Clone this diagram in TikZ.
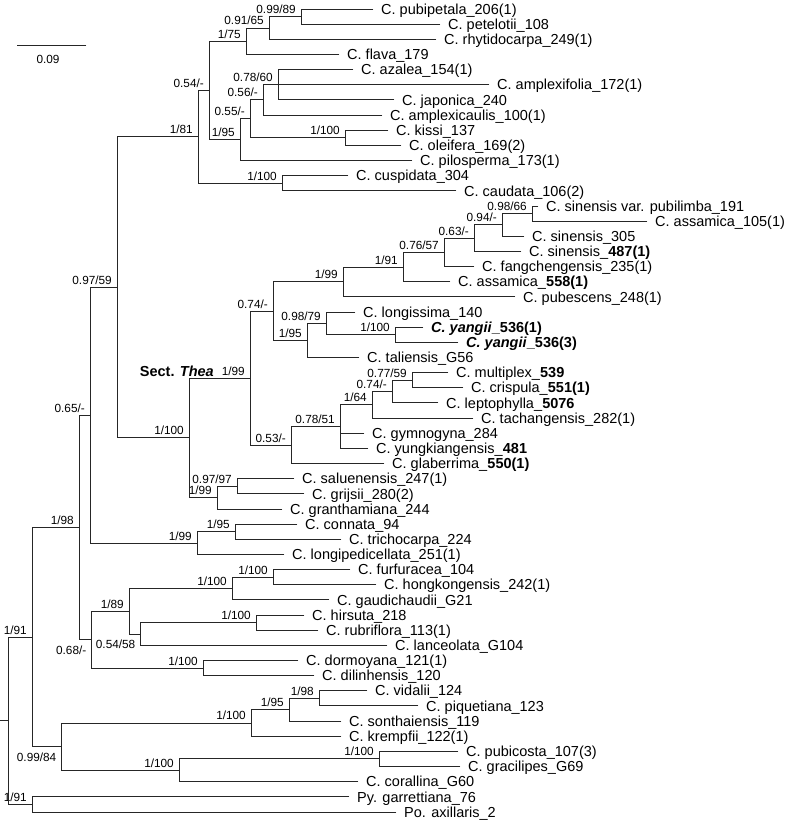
\documentclass[tikz,border=0pt]{standalone}
\usepackage{fontspec}
\setmainfont{Liberation Sans}
\usetikzlibrary{calc}
\tikzset{
  br/.style={draw=black!85, line width=0.9pt, line cap=rect},
  tiplab/.style={anchor=base west, inner sep=0pt, font=\fontsize{14.5}{17}\selectfont},
  sup/.style={inner sep=0pt, font=\fontsize{11.8}{14}\selectfont},
}
\newcommand{\tip}[4]{%
  \coordinate (#1) at (#3,{9+15.15*(#2-1)});
  \node[tiplab] (#1l) at ({#3+8},{9+15.15*(#2-1)+5.2}) {#4};}
\newcommand{\inode}[4]{%
  \coordinate (#1) at (#2,#3);
  \node[sup, anchor=base east] (#1s) at ({#2-5},{#3-3}) {#4};}
\newcommand{\inodeb}[4]{%
  \coordinate (#1) at (#2,#3);
  \node[sup, anchor=base east] (#1s) at ({#2-4.5},{#3+15}) {#4};}
\begin{document}
\begin{tikzpicture}[x=1pt,y=-1pt]
\useasboundingbox (0,0) rectangle (790,822);
% scale bar
\coordinate (sbA) at (17,45);
\coordinate (sbB) at (86,45);
\draw[br] (sbA) -- (sbB);
\node[sup, anchor=base] (sbl) at (48,63.5) {0.09};
% tips
\tip{t1}{1}{373}{C. pubipetala\_206(1)}
\tip{t2}{2}{440}{C. petelotii\_108}
\tip{t3}{3}{436}{C. rhytidocarpa\_249(1)}
\tip{t4}{4}{339}{C. flava\_179}
\tip{t5}{5}{353}{C. azalea\_154(1)}
\tip{t6}{6}{489}{C. amplexifolia\_172(1)}
\tip{t7}{7}{394}{C. japonica\_240}
\tip{t8}{8}{382}{C. amplexicaulis\_100(1)}
\tip{t9}{9}{388}{C. kissi\_137}
\tip{t10}{10}{401}{C. oleifera\_169(2)}
\tip{t11}{11}{412}{C. pilosperma\_173(1)}
\tip{t12}{12}{348}{C. cuspidata\_304}
\tip{t13}{13}{456}{C. caudata\_106(2)}
\tip{t14}{14}{538}{C. sinensis var. pubilimba\_191}
\tip{t15}{15}{647}{C. assamica\_105(1)}
\tip{t16}{16}{524}{C. sinensis\_305}
\tip{t17}{17}{521}{C. sinensis\_\textbf{487(1)}}
\tip{t18}{18}{474}{C. fangchengensis\_235(1)}
\tip{t19}{19}{450}{C. assamica\_\textbf{558(1)}}
\tip{t20}{20}{515}{C. pubescens\_248(1)}
\tip{t21}{21}{355}{C. longissima\_140}
\tip{t22}{22}{423}{\textbf{\textit{C. yangii}\_536(1)}}
\tip{t23}{23}{458}{\textbf{\textit{C. yangii}\_536(3)}}
\tip{t24}{24}{359}{C. taliensis\_G56}
\tip{t25}{25}{448}{C. multiplex\_\textbf{539}}
\tip{t26}{26}{463}{C. crispula\_\textbf{551(1)}}
\tip{t27}{27}{438}{C. leptophylla\_\textbf{5076}}
\tip{t28}{28}{473}{C. tachangensis\_282(1)}
\tip{t29}{29}{364}{C. gymnogyna\_284}
\tip{t30}{30}{368}{C. yungkiangensis\_\textbf{481}}
\tip{t31}{31}{384}{C. glaberrima\_\textbf{550(1)}}
\tip{t32}{32}{294}{C. saluenensis\_247(1)}
\tip{t33}{33}{304}{C. grijsii\_280(2)}
\tip{t34}{34}{282}{C. granthamiana\_244}
\tip{t35}{35}{297}{C. connata\_94}
\tip{t36}{36}{341}{C. trichocarpa\_224}
\tip{t37}{37}{284}{C. longipedicellata\_251(1)}
\tip{t38}{38}{350}{C. furfuracea\_104}
\tip{t39}{39}{376}{C. hongkongensis\_242(1)}
\tip{t40}{40}{329}{C. gaudichaudii\_G21}
\tip{t41}{41}{304}{C. hirsuta\_218}
\tip{t42}{42}{318}{C. rubriflora\_113(1)}
\tip{t43}{43}{387}{C. lanceolata\_G104}
\tip{t44}{44}{298}{C. dormoyana\_121(1)}
\tip{t45}{45}{314}{C. dilinhensis\_120}
\tip{t46}{46}{367}{C. vidalii\_124}
\tip{t47}{47}{418}{C. piquetiana\_123}
\tip{t48}{48}{341}{C. sonthaiensis\_119}
\tip{t49}{49}{341}{C. krempfii\_122(1)}
\tip{t50}{50}{458}{C. pubicosta\_107(3)}
\tip{t51}{51}{460}{C. gracilipes\_G69}
\tip{t52}{52}{358}{C. corallina\_G60}
\tip{t53}{53}{349}{Py. garrettiana\_76}
\tip{t54}{54}{396}{Po. axillaris\_2}
% internal nodes
\inode{npp}{301}{16.6}{0.99/89}
\inode{nA}{269}{27.95}{0.91/65}
\inode{nB}{246}{41.2}{1/75}
\inode{nC}{278}{84.75}{0.78/60}
\inode{nD}{263}{99.9}{0.56/-}
\inode{nE}{345}{137.8}{1/100}
\inode{nF}{250}{118.85}{0.55/-}
\inode{nG}{240}{139.7}{1/95}
\inode{nH}{209}{90.45}{0.54/-}
\inode{nI}{282}{183.2}{1/100}
\inode{nJ}{198}{136.8}{1/81}
\inode{sA}{532}{213.5}{0.98/66}
\inode{sB}{502}{224.9}{0.94/-}
\inode{sC}{474}{238.15}{0.63/-}
\inode{sD}{444}{252.35}{0.76/57}
\inode{sE}{403}{267}{1/91}
\inode{sF}{343}{281.9}{1/99}
\inode{yA}{395}{334.7}{1/100}
\inode{yB}{326}{323.35}{0.98/79}
\inode{yC}{307}{340.4}{1/95}
\inode{yD}{273}{311.15}{0.74/-}
\inode{mA}{412}{380.2}{0.77/59}
\inode{mB}{392}{391.55}{0.74/-}
\inode{mC}{372}{404.8}{1/64}
\inode{mD}{340}{426.6}{0.78/51}
\inode{mE}{291}{445.05}{0.53/-}
\inode{thea}{250}{378.1}{1/99}
\inode{gA}{237}{486.2}{0.97/97}
\inode{gB}{217}{497.6}{1/99}
\inode{gC}{189}{437.85}{1/100}
\inode{bA}{117}{287.3}{0.97/59}
\inode{cA}{235}{531.7}{1/95}
\inode{cB}{197}{543.05}{1/99}
\inode{bB}{90}{415.2}{0.65/-}
\inode{fA}{273}{577.1}{1/100}
\inode{fB}{232}{588.5}{1/100}
\inode{hA}{256}{622.6}{1/100}
\inodeb{hB}{140}{633.95}{0.54/58}
\inode{hC}{129}{611.2}{1/89}
\inode{dA}{203}{668}{1/100}
\inodeb{hD}{91}{639.6}{0.68/-}
\inode{bC}{79}{527.4}{1/98}
\inode{vA}{319}{698.3}{1/98}
\inode{vB}{289}{709.7}{1/95}
\inode{vC}{251}{722.95}{1/100}
\inode{pA}{379}{758.9}{1/100}
\inode{pB}{179}{770.3}{1/100}
\inodeb{pC}{61}{746.6}{0.99/84}
\inode{bD}{32}{637}{1/91}
\inode{oA}{32}{804.4}{1/91}
\coordinate (root) at (8,720.7);
\coordinate (stub) at (0,720.7);
\node[anchor=base east, inner sep=0pt, font=\fontsize{14.5}{17}\selectfont\bfseries] (sect) at (214,376) {Sect. \textit{Thea}};
% branches
\draw[br] (npp) |- (t1); \draw[br] (npp) |- (t2);
\draw[br] (nA) |- (npp); \draw[br] (nA) |- (t3);
\draw[br] (nB) |- (nA); \draw[br] (nB) |- (t4);
\draw[br] (nC) |- (t5); \draw[br] (nC) |- (t6); \draw[br] (nC) |- (t7);
\draw[br] (nD) |- (nC); \draw[br] (nD) |- (t8);
\draw[br] (nE) |- (t9); \draw[br] (nE) |- (t10);
\draw[br] (nF) |- (nD); \draw[br] (nF) |- (nE);
\draw[br] (nG) |- (nF); \draw[br] (nG) |- (t11);
\draw[br] (nH) |- (nB); \draw[br] (nH) |- (nG);
\draw[br] (nI) |- (t12); \draw[br] (nI) |- (t13);
\draw[br] (nJ) |- (nH); \draw[br] (nJ) |- (nI);
\draw[br] (sA) |- (t14); \draw[br] (sA) |- (t15);
\draw[br] (sB) |- (sA); \draw[br] (sB) |- (t16);
\draw[br] (sC) |- (sB); \draw[br] (sC) |- (t17);
\draw[br] (sD) |- (sC); \draw[br] (sD) |- (t18);
\draw[br] (sE) |- (sD); \draw[br] (sE) |- (t19);
\draw[br] (sF) |- (sE); \draw[br] (sF) |- (t20);
\draw[br] (yA) |- (t22); \draw[br] (yA) |- (t23);
\draw[br] (yB) |- (t21); \draw[br] (yB) |- (yA);
\draw[br] (yC) |- (yB); \draw[br] (yC) |- (t24);
\draw[br] (yD) |- (sF); \draw[br] (yD) |- (yC);
\draw[br] (mA) |- (t25); \draw[br] (mA) |- (t26);
\draw[br] (mB) |- (mA); \draw[br] (mB) |- (t27);
\draw[br] (mC) |- (mB); \draw[br] (mC) |- (t28);
\draw[br] (mD) |- (mC); \draw[br] (mD) |- (t29); \draw[br] (mD) |- (t30);
\draw[br] (mE) |- (mD); \draw[br] (mE) |- (t31);
\draw[br] (thea) |- (yD); \draw[br] (thea) |- (mE);
\draw[br] (gA) |- (t32); \draw[br] (gA) |- (t33);
\draw[br] (gB) |- (gA); \draw[br] (gB) |- (t34);
\draw[br] (gC) |- (thea); \draw[br] (gC) |- (gB);
\draw[br] (bA) |- (nJ); \draw[br] (bA) |- (gC);
\draw[br] (cA) |- (t35); \draw[br] (cA) |- (t36);
\draw[br] (cB) |- (cA); \draw[br] (cB) |- (t37);
\draw[br] (bB) |- (bA); \draw[br] (bB) |- (cB);
\draw[br] (fA) |- (t38); \draw[br] (fA) |- (t39);
\draw[br] (fB) |- (fA); \draw[br] (fB) |- (t40);
\draw[br] (hA) |- (t41); \draw[br] (hA) |- (t42);
\draw[br] (hB) |- (hA); \draw[br] (hB) |- (t43);
\draw[br] (hC) |- (fB); \draw[br] (hC) |- (hB);
\draw[br] (dA) |- (t44); \draw[br] (dA) |- (t45);
\draw[br] (hD) |- (hC); \draw[br] (hD) |- (dA);
\draw[br] (bC) |- (bB); \draw[br] (bC) |- (hD);
\draw[br] (vA) |- (t46); \draw[br] (vA) |- (t47);
\draw[br] (vB) |- (vA); \draw[br] (vB) |- (t48);
\draw[br] (vC) |- (vB); \draw[br] (vC) |- (t49);
\draw[br] (pA) |- (t50); \draw[br] (pA) |- (t51);
\draw[br] (pB) |- (pA); \draw[br] (pB) |- (t52);
\draw[br] (pC) |- (vC); \draw[br] (pC) |- (pB);
\draw[br] (bD) |- (bC); \draw[br] (bD) |- (pC);
\draw[br] (oA) |- (t53); \draw[br] (oA) |- (t54);
\draw[br] (root) |- (bD); \draw[br] (root) |- (oA);
\draw[br] (stub) -- (root);
\end{tikzpicture}
\end{document}
